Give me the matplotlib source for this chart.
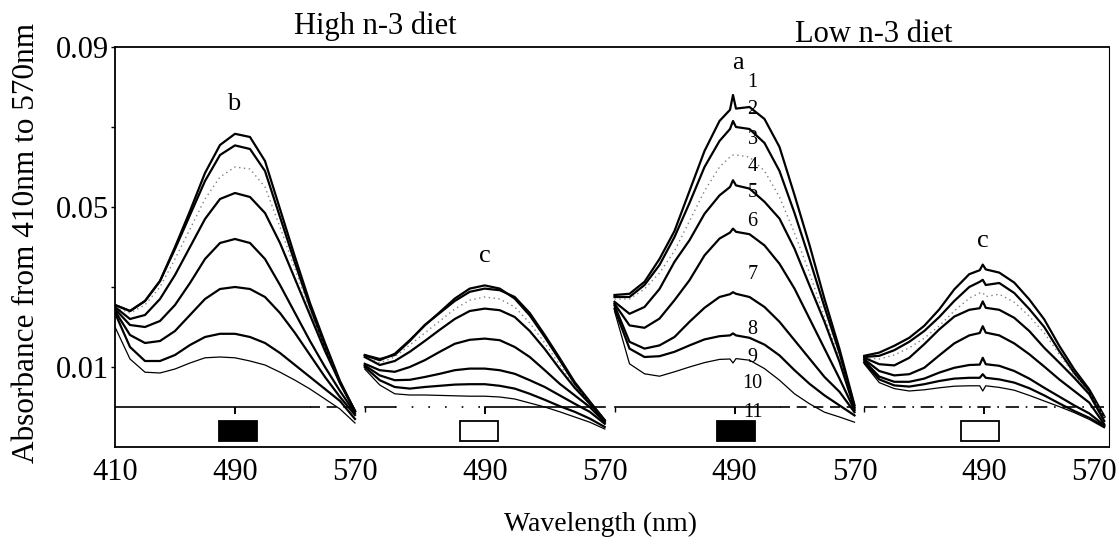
import numpy as np
import matplotlib
matplotlib.use('Agg')
import matplotlib.pyplot as plt
from matplotlib.patches import Rectangle

plt.rcParams['font.family'] = 'Liberation Serif'

# wavelength grids (nm); the low n-3 scans carry a spike near 489 nm
wl = [410, 420, 430, 440, 450, 460, 470, 480, 490,
      500, 510, 520, 530, 540, 550, 560, 570]
wl_spk = [410, 420, 430, 440, 450, 460, 470, 480, 487, 489, 491,
          500, 510, 520, 530, 540, 550, 560, 570]

# absorbance x 1e-3, successive scans during bleaching
high_b = [
    [25.5, 24.0, 26.5, 31.5, 40.0, 49.0, 58.5, 65.5, 68.3, 67.5, 61.5, 49.5, 37.5, 26.0, 16.0, 6.5, -1.0],
    [25.5, 24.0, 26.5, 31.5, 39.5, 48.0, 56.5, 63.0, 65.4, 64.5, 59.0, 47.5, 36.0, 25.0, 15.0, 6.0, -1.0],
    [25.0, 23.5, 25.5, 30.0, 37.0, 44.5, 52.0, 57.5, 60.0, 59.5, 55.0, 45.0, 34.5, 24.0, 14.5, 6.0, -1.0],
    [25.0, 22.0, 23.0, 27.0, 33.0, 40.0, 47.0, 52.0, 53.5, 52.5, 48.5, 41.0, 32.0, 23.0, 14.0, 6.0, -1.0],
    [24.5, 20.5, 20.0, 21.5, 25.5, 31.0, 37.0, 41.0, 42.0, 41.0, 37.0, 30.5, 23.5, 16.5, 10.0, 4.0, -1.5],
    [24.0, 18.0, 16.0, 16.5, 19.0, 23.0, 27.0, 29.5, 30.0, 29.5, 27.5, 23.5, 18.5, 13.0, 7.5, 2.5, -2.0],
    [23.5, 15.0, 11.5, 11.5, 13.0, 15.5, 17.5, 18.3, 18.3, 17.5, 16.0, 13.5, 10.5, 7.5, 4.5, 1.5, -3.0],
    [20.0, 12.0, 8.7, 8.5, 9.5, 11.0, 12.3, 12.5, 12.3, 11.5, 10.5, 8.7, 6.7, 4.5, 2.0, -0.5, -4.0],
]
high_c = [
    [12.9, 11.7, 13.3, 16.7, 20.4, 23.7, 27.1, 29.6, 30.4, 29.6, 27.1, 22.9, 17.5, 11.7, 5.8, 1.2, -3.3],
    [13.0, 12.0, 13.0, 16.5, 20.5, 23.5, 26.5, 28.8, 29.6, 29.2, 27.5, 23.5, 18.0, 12.2, 6.2, 1.4, -3.3],
    [12.5, 11.0, 12.5, 15.5, 18.5, 21.5, 24.5, 26.7, 27.5, 27.0, 25.0, 21.0, 16.0, 10.5, 5.2, 1.0, -3.5],
    [12.5, 10.5, 11.5, 13.8, 16.5, 19.3, 22.0, 24.0, 24.6, 24.2, 22.5, 19.0, 14.5, 9.5, 4.8, 0.8, -3.5],
    [10.8, 9.2, 8.8, 10.0, 11.7, 13.8, 15.8, 16.8, 17.1, 16.7, 15.0, 12.5, 9.2, 5.8, 2.9, 0.0, -3.8],
    [10.4, 7.9, 6.7, 6.8, 7.5, 8.3, 9.2, 9.6, 9.6, 9.2, 8.3, 6.7, 5.0, 2.9, 0.8, -1.2, -4.2],
    [10.0, 6.7, 5.0, 4.6, 5.0, 5.3, 5.6, 5.7, 5.7, 5.3, 4.6, 3.3, 1.8, 0.2, -1.2, -2.9, -5.0],
    [9.5, 5.5, 3.3, 3.0, 3.0, 2.9, 2.8, 2.7, 2.7, 2.5, 2.0, 1.0, 0.0, -1.2, -2.5, -3.8, -5.5],
]
low_a = [
    [28.0, 28.3, 31.3, 37.0, 44.0, 54.0, 64.0, 71.5, 74.3, 78.0, 74.6, 75.0, 72.0, 65.0, 53.0, 40.5, 27.0, 14.5, 0.5],
    [27.5, 27.5, 30.5, 35.5, 42.5, 51.0, 60.0, 66.5, 69.5, 71.5, 70.0, 69.5, 66.0, 59.0, 48.5, 37.0, 25.0, 13.5, 0.0],
    [27.0, 27.0, 29.5, 33.5, 39.0, 46.5, 54.0, 60.0, 62.5, 63.0, 63.0, 62.5, 59.0, 52.5, 43.5, 33.5, 22.5, 12.0, -0.5],
    [26.3, 23.3, 25.0, 29.5, 36.3, 41.7, 48.3, 52.9, 55.0, 56.7, 55.4, 54.6, 51.3, 47.1, 39.6, 30.4, 21.3, 11.3, -0.4],
    [25.8, 20.4, 19.8, 22.1, 26.7, 31.7, 37.9, 42.1, 43.6, 44.6, 43.8, 43.2, 40.4, 35.8, 29.6, 22.1, 14.6, 7.1, -0.8],
    [25.4, 16.3, 14.6, 15.4, 17.5, 21.3, 24.8, 27.5, 28.2, 28.7, 28.3, 27.5, 25.0, 21.3, 16.7, 12.1, 7.5, 3.8, -1.3],
    [24.6, 14.6, 12.5, 12.7, 13.8, 15.4, 16.9, 17.7, 17.9, 18.4, 17.9, 17.3, 15.6, 12.9, 9.2, 5.8, 2.9, 0.4, -2.1],
    [24.0, 10.8, 8.3, 7.7, 8.8, 10.0, 11.1, 11.9, 12.0, 11.0, 12.1, 11.7, 9.6, 6.7, 3.3, 0.8, -1.3, -2.5, -3.8],
]
low_c = [
    [12.8, 13.6, 15.3, 17.3, 20.3, 24.4, 29.4, 33.2, 34.2, 35.6, 34.4, 33.6, 31.1, 26.9, 21.9, 15.3, 9.4, 4.4, -2.3],
    [12.5, 12.8, 14.2, 16.3, 19.0, 22.5, 26.5, 30.0, 31.3, 31.8, 30.5, 31.0, 28.5, 24.5, 20.0, 14.0, 8.5, 4.0, -2.5],
    [12.3, 12.0, 13.0, 14.8, 17.2, 20.3, 24.0, 27.2, 28.5, 28.6, 27.6, 28.2, 26.2, 22.7, 18.5, 13.2, 8.0, 3.5, -2.5],
    [12.3, 10.7, 10.4, 12.3, 15.7, 19.4, 22.6, 24.3, 24.7, 26.4, 24.8, 24.3, 22.3, 19.0, 14.8, 11.1, 7.3, 3.2, -3.5],
    [11.9, 9.0, 7.9, 8.2, 9.8, 12.9, 15.9, 17.9, 18.5, 20.2, 18.6, 17.9, 15.9, 13.2, 10.1, 6.9, 4.0, 1.1, -4.3],
    [11.5, 7.6, 6.3, 6.3, 7.1, 8.6, 9.8, 10.5, 10.6, 12.3, 10.7, 10.3, 9.0, 7.1, 4.8, 2.6, 0.4, -1.6, -4.6],
    [11.1, 6.9, 5.4, 5.1, 5.7, 6.5, 7.1, 7.3, 7.3, 8.2, 7.3, 6.9, 6.1, 4.7, 2.9, 0.9, -1.0, -2.7, -4.9],
    [10.8, 6.1, 4.6, 4.0, 4.3, 4.8, 5.2, 5.3, 5.3, 4.0, 5.3, 4.9, 4.2, 2.9, 1.5, 0.1, -1.4, -3.1, -5.2],
]

panels = [(wl, high_b), (wl, high_c), (wl_spk, low_a), (wl_spk, low_c)]
styles = ['k', 'k', 'd', 'k', 'k', 'k', 'k', 't']
panel_letters = ['b', 'c', 'a', 'c']
letter_pos = [(489, 75.8), (490, 37.8), (492, 86.0), (489, 41.5)]
box_center = [492, 486, 491, 487]
box_filled = [True, False, True, False]
offset = [0, 166.5, 333, 499.5]

# pieces of the zero line in each panel: (from, to, linestyle)
dash = (0, (6, 4))
dot = (0, (1, 9))
dashdot = (0, (8, 4, 1, 4))
zero_line = [
    [(410, 540, '-'), (540, 570, dash)],
    [(410, 430, '-'), (430, 490, dot), (490, 570, '-')],
    [(410, 520, '-'), (520, 570, dash)],
    [(410, 570, dashdot)],
]

scan_no = ['1', '2', '3', '4', '5', '6', '7', '8', '9', '10', '11']
scan_no_y = [81.0, 74.3, 66.8, 60.0, 53.5, 46.3, 33.0, 19.3, 12.5, 6.0, -1.3]

fig = plt.figure(figsize=(11.19, 5.44), dpi=100)
ax = fig.add_axes([115/1119, 1 - 447/544, 994/1119, 400/544])
x_right = 410 + 994/1.5
ax.set_xlim(410, x_right)
ax.set_ylim(-0.01, 0.09)

for k, (w, curves) in enumerate(panels):
    xs = np.array(w) + offset[k]
    for st, vals in zip(styles, curves):
        y = np.array(vals) * 1e-3
        if st == 'k':
            ax.plot(xs, y, color='black', lw=1.6, solid_joinstyle='round')
        elif st == 't':
            ax.plot(xs, y, color='black', lw=0.9, solid_joinstyle='round')
        else:
            ax.plot(xs, y, color='0.5', lw=1.0, ls=(0, (1, 2.5)))
    for a, b, ls in zero_line[k]:
        ax.plot([a + offset[k], b + offset[k]], [0, 0], color='black', lw=1.2, ls=ls)
    # small marks at 490 nm and at the panel joints
    ax.vlines(490 + offset[k], -0.0018, 0, color='black', lw=1.4)
    if k > 0:
        ax.vlines(410 + offset[k], -0.0012, 0, color='black', lw=1.0)
    # filter symbol
    ax.add_patch(Rectangle((box_center[k] - 12.5 + offset[k], -0.0085), 25, 0.005,
                           facecolor='black' if box_filled[k] else 'white',
                           edgecolor='black', lw=1.3))
    lx, ly = panel_letters[k], letter_pos[k]
    ax.text(ly[0] + offset[k], ly[1] * 1e-3, lx, ha='center', va='center', fontsize=19)

for s, yv in zip(scan_no, scan_no_y):
    ax.text(502 + offset[2], yv * 1e-3, s, ha='center', va='center', fontsize=14.5)

# axis ticks
xt = [410, 490, 570]
for k in range(1, 4):
    xt += [490 + offset[k], 570 + offset[k]]
xt[-1] = x_right - 10
ax.set_xticks(xt)
ax.set_xticklabels(['410', '490', '570', '490', '570', '490', '570', '490', '570'])
ax.tick_params(axis='x', length=0, pad=8, labelsize=22)
ax.set_yticks([0.01, 0.05, 0.09])
ax.set_yticklabels(['0.01', '0.05', '0.09'])
ax.set_yticks([0.03, 0.07], minor=True)
ax.tick_params(axis='y', which='both', direction='out', length=3, width=1, pad=1, labelsize=22)

for side in ['left', 'bottom', 'top']:
    ax.spines[side].set_linewidth(1.3)
ax.spines['right'].set_linewidth(0.8)

fig.text(375/1119, 1 - 26/544, 'High n-3 diet', ha='center', va='center', fontsize=22)
fig.text(874/1119, 1 - 35/544, 'Low n-3 diet', ha='center', va='center', fontsize=22)
fig.text(27/1119, 1 - 243/544, 'Absorbance from 410nm to 570nm', rotation=90,
         ha='center', va='center', fontsize=22.5)
fig.text(601/1119, 1 - 524/544, 'Wavelength (nm)', ha='center', va='center', fontsize=20)

fig.savefig('out.png', dpi=100)
